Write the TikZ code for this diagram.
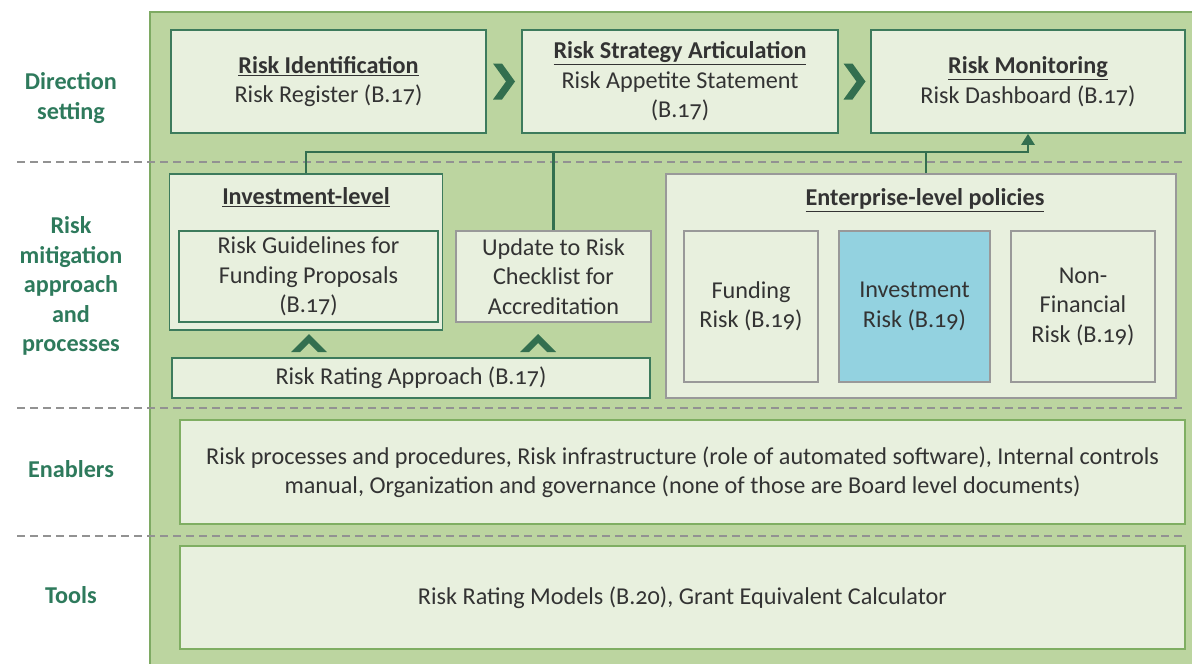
\documentclass[tikz,border=0pt]{standalone}
\usepackage{fontspec}
\setmainfont{Carlito}[Numbers=OldStyle]
\usetikzlibrary{calc, arrows.meta}

\definecolor{bggreen}{HTML}{BCD5A0}
\definecolor{bgedge}{HTML}{7EAA63}
\definecolor{ltfill}{HTML}{E8F0DE}
\definecolor{dkgreen}{HTML}{3D7B5C}
\definecolor{midgreen}{HTML}{7FAE62}
\definecolor{boxgrey}{HTML}{999999}
\definecolor{sepgrey}{HTML}{929292}
\definecolor{chevgreen}{HTML}{336F4F}
\definecolor{labelgreen}{HTML}{2E7A5C}
\definecolor{txtgrey}{HTML}{333333}
\definecolor{riskblue}{HTML}{93D2E0}

\begin{document}
\begin{tikzpicture}[x=1pt, y=-1pt,
	font=\fontsize{24.2}{29.5}\selectfont, text=txtgrey,
	box/.style={draw=dkgreen, fill=ltfill, line width=1.6pt, rectangle, align=center, inner sep=0pt},
	greybox/.style={box, draw=boxgrey},
	softbox/.style={box, draw=midgreen},
	rowlabel/.style={font=\fontsize{24.2}{29.5}\selectfont\bfseries, text=labelgreen, align=center},
	rowsep/.style={draw=sepgrey, line width=1.2pt, dash pattern=on 8pt off 5pt},
	chev/.style={fill=chevgreen},
	link/.style={draw=chevgreen, line width=2.4pt}]
	\useasboundingbox (0,0) rectangle (1192,664);

	% background panel and row separators
	\draw[draw=bgedge, fill=bggreen, line width=1.5pt] (150,12) rectangle (1200,680);
	\foreach \y in {162, 408, 536}
		\draw[rowsep] (17,\y) -- (1186,\y);

	% row labels
	\node[rowlabel] (lbldir) at (71,98) {Direction\\setting};
	\node[rowlabel] (lblmit) at (71,286) {Risk\\mitigation\\approach\\and\\processes};
	\node[rowlabel] (lblena) at (71,469) {Enablers};
	\node[rowlabel] (lbltool) at (71,595) {Tools};

	% direction setting
	\node[box, minimum width=315, minimum height=103] (ident) at (328.5,81.5)
		{\underline{\textbf{Risk Identification}}\\Risk Register (B.17)};
	\node[box, minimum width=316, minimum height=103] (strat) at (680,81.5)
		{\underline{\textbf{Risk Strategy Articulation}}\\Risk Appetite Statement\\(B.17)};
	\node[box, minimum width=314, minimum height=103] (monit) at (1028,81.5)
		{\underline{\textbf{Risk Monitoring}}\\Risk Dashboard (B.17)};

	\coordinate (chevA) at ($(ident.east)!0.5!(strat.west)$);
	\coordinate (chevB) at ($(strat.east)!0.5!(monit.west)$);
	\foreach \c in {chevA, chevB}
		\fill[chev, shift={(\c)}] (-11,-18) -- (-2,-18) -- (11,0) -- (-2,18) -- (-11,18) -- (2,0) -- cycle;

	% risk mitigation
	\node[box, minimum width=273, minimum height=156] (invl) at (306,252) {};
	\node[font=\fontsize{24.2}{29.5}\selectfont\bfseries] (invltitle) at (306,197)
		{\underline{Investment-level}};
	\node[box, minimum width=259, minimum height=91] (guide) at (308.5,276.5)
		{Risk Guidelines for\\Funding Proposals\\(B.17)};
	\node[greybox, minimum width=195, minimum height=91] (upd) at (553.5,276.5)
		{Update to Risk\\Checklist for\\Accreditation};
	\node[box, minimum width=478, minimum height=40] (rating) at (411,378)
		{Risk Rating Approach (B.17)};

	\foreach \x in {309, 538}
		\fill[chev, shift={(\x,343)}] (-18,9) -- (0,-9) -- (18,9) -- (9,9) -- (0,0) -- (-9,9) -- cycle;

	\node[greybox, minimum width=510, minimum height=224] (ent) at (921,286) {};
	\node[font=\fontsize{24.2}{29.5}\selectfont\bfseries] (enttitle) at (925,200)
		{\underline{Enterprise-level policies}};
	\node[greybox, minimum width=134, minimum height=151] (fund) at (751,306.5)
		{Funding\\Risk (B.19)};
	\node[greybox, fill=riskblue, minimum width=151, minimum height=151] (inv) at (914.5,306.5)
		{Investment\\Risk (B.19)};
	\node[greybox, minimum width=144, minimum height=151] (nonfin) at (1083,306.5)
		{Non-\\Financial\\Risk (B.19)};

	% links up to monitoring
	\coordinate (bus) at (0,152);
	\draw[link, -{Triangle[length=11pt, width=13pt]}] (invl.north) |- (monit.south |- bus) -- (monit.south);
	\draw[link] (upd.north) -- (upd.north |- bus);
	\draw[link] ($(ent.north)+(5,0)$) -- ($(ent.north |- bus)+(5,0)$);

	% enablers and tools
	\node[softbox, minimum width=1005, minimum height=104] (enab) at (682.5,472)
		{Risk processes and procedures, Risk infrastructure (role of automated software), Internal controls\\manual, Organization and governance (none of those are Board level documents)};
	\node[softbox, minimum width=1005, minimum height=103] (tools) at (682.5,597.5)
		{Risk Rating Models (B.20), Grant Equivalent Calculator};
\end{tikzpicture}
\end{document}
